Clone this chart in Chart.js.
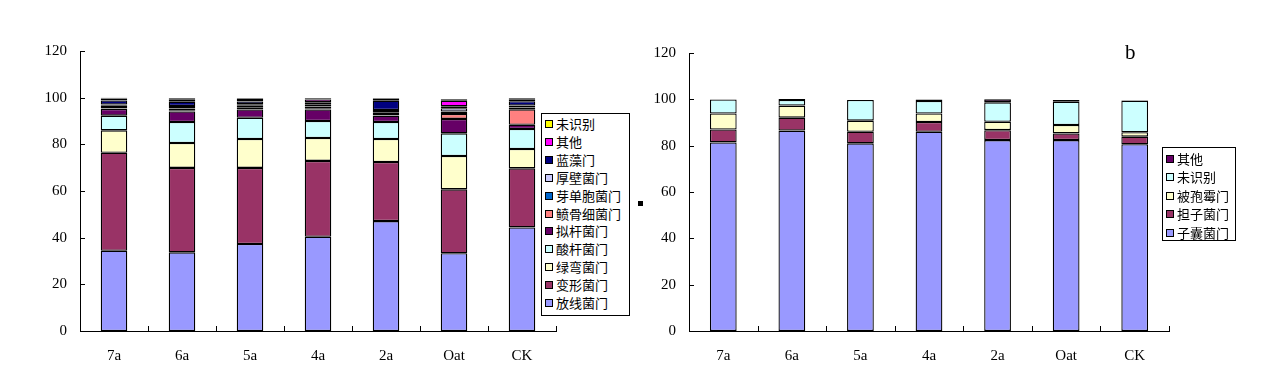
<!DOCTYPE html>
<html>
<head>
<meta charset="utf-8">
<script src="https://cdn.jsdelivr.net/npm/chart.js@4.4.0/dist/chart.umd.min.js"></script>
<style>
  body { margin: 0; background: #fff; width: 1269px; height: 381px; overflow: hidden; position: relative; }
  canvas { position: absolute; top: 0; }
  .legend { position: absolute; border: 1px solid #000; background: #fff; font-family: "Noto Sans CJK SC", sans-serif; font-size: 13px; color: #000; box-sizing: border-box; }
  .legend div { position: absolute; left: 0; white-space: nowrap; line-height: 16px; }
  .legend span { display: inline-block; width: 6px; height: 6px; border: 1px solid #000; margin-right: 3px; vertical-align: 1px; }
  #mark { position: absolute; left: 638px; top: 201px; width: 5px; height: 5px; background: #000; }
  #tag { position: absolute; left: 1125px; top: 40px; font-family: "Liberation Serif", serif; font-size: 21px; }
</style>
</head>
<body>
<canvas id="left" width="640" height="381" style="left:0;width:640px;height:381px"></canvas>
<canvas id="right" width="629" height="381" style="left:640px;width:629px;height:381px"></canvas>
<div id="legend-left" class="legend" style="left:541px;top:113px;width:89px;height:203px"></div>
<div id="legend-right" class="legend" style="left:1162px;top:147px;width:74px;height:94px"></div>
<div id="mark"></div>
<div id="tag">b</div>
<script>
const CATEGORIES = ["7a", "6a", "5a", "4a", "2a", "Oat", "CK"];
const Y_TICKS = [0, 20, 40, 60, 80, 100, 120];

// bacteria (left), bottom to top
const BAC_NAMES = ["放线菌门", "变形菌门", "绿弯菌门", "酸杆菌门", "拟杆菌门", "鲼骨细菌门", "芽单胞菌门", "厚壁菌门", "蓝藻门", "其他", "未识别"];
const BAC_COLORS = ["#9999ff", "#993366", "#ffffcc", "#ccffff", "#660066", "#ff8080", "#0066cc", "#ccccff", "#000080", "#ff00ff", "#ffff00"];
const actino   = [34.4, 33.7, 37.3, 40.4, 47.1, 33.3, 44.4];
const proteo   = [42.0, 36.2, 32.6, 32.5, 25.3, 27.4, 25.3];
const chloro   = [9.6, 10.7, 12.4, 9.8, 9.9, 14.3, 8.3];
const acido    = [6.3, 9.0, 9.1, 7.3, 7.3, 9.7, 8.6];
const bactero  = [2.9, 4.5, 3.5, 4.9, 2.7, 6.2, 1.8];
const gemmBone = [0.3, 0.3, 0.8, 0.3, 0.2, 2.1, 6.6];
const gemma    = [1.0, 1.0, 1.0, 1.0, 1.2, 1.1, 0.8];
const firmi    = [0.6, 1.0, 0.5, 0.8, 1.0, 1.4, 0.8];
const cyano    = [1.7, 1.9, 1.2, 1.0, 4.0, 0.8, 1.9];
const bacOther = [0.8, 1.0, 1.2, 1.2, 0.9, 2.4, 0.8];
const bacUnk   = [0.4, 0.5, 0.3, 0.6, 0.3, 0.6, 0.5];
const BAC_VALUES = [actino, proteo, chloro, acido, bactero, gemmBone, gemma, firmi, cyano, bacOther, bacUnk];

// fungi (right), bottom to top
const FUN_NAMES = ["子囊菌门", "担子菌门", "被孢霉门", "未识别", "其他"];
const FUN_COLORS = ["#9999ff", "#993366", "#ffffcc", "#ccffff", "#660066"];
const asco     = [81.4, 86.5, 81.0, 86.0, 82.4, 82.4, 80.6];
const basidio  = [5.6, 5.6, 5.0, 4.2, 4.3, 2.9, 3.3];
const mortier  = [6.9, 5.2, 4.8, 3.7, 3.6, 3.6, 1.9];
const funUnk   = [6.0, 2.4, 8.9, 5.4, 8.4, 10.1, 13.6];
const funOther = [0.0, 0.4, 0.0, 0.6, 1.3, 0.7, 0.2];
const FUN_VALUES = [asco, basidio, mortier, funUnk, funOther];

const SERIF = "'Liberation Serif', 'Times New Roman', serif";

// inside tick marks, like the original spreadsheet chart
const insideTicks = {
  id: "insideTicks",
  afterDraw(chart) {
    const ctx = chart.ctx;
    const a = chart.chartArea;
    const x = chart.scales.x, y = chart.scales.y;
    ctx.save();
    ctx.strokeStyle = "#000";
    ctx.lineWidth = 1;
    ctx.beginPath();
    Y_TICKS.forEach((v) => {
      const py = Math.round(y.getPixelForValue(v)) + 0.5;
      ctx.moveTo(a.left, py);
      ctx.lineTo(a.left + 5, py);
    });
    const step = (x.right - x.left) / CATEGORIES.length;
    for (let i = 1; i <= CATEGORIES.length; i++) {
      const px = Math.round(x.left + step * i) + 0.5;
      ctx.moveTo(px, a.bottom);
      ctx.lineTo(px, a.bottom - 5);
    }
    ctx.stroke();
    ctx.restore();
  },
};

function makeChart(id, names, colors, values, pad, yWidth) {
  const datasets = names.map((n, i) => ({
    label: n,
    data: values[i],
    backgroundColor: colors[i],
    borderColor: "#000",
    borderWidth: 1.3,
    borderSkipped: false,
    barPercentage: 0.39,
    categoryPercentage: 1,
  }));
  return new Chart(document.getElementById(id), {
    type: "bar",
    data: { labels: CATEGORIES, datasets },
    plugins: [insideTicks],
    options: {
      responsive: false,
      animation: false,
      layout: { padding: pad },
      plugins: { legend: { display: false }, tooltip: { enabled: false } },
      scales: {
        x: {
          stacked: true,
          grid: { display: false },
          border: { display: true, color: "#000", width: 1 },
          ticks: { color: "#000", font: { family: SERIF, size: 15 }, padding: 8 },
          afterFit: (s) => { s.height = 50; },
        },
        y: {
          stacked: true,
          min: 0,
          max: 120,
          grid: { display: false },
          border: { display: true, color: "#000", width: 1 },
          ticks: { stepSize: 20, color: "#000", font: { family: SERIF, size: 15 }, padding: 5 },
          afterFit: (s) => { s.width = yWidth; },
        },
      },
    },
  });
}

makeChart("left", BAC_NAMES, BAC_COLORS, BAC_VALUES, { left: 30, right: 84, top: 51, bottom: 0 }, 50);
makeChart("right", FUN_NAMES, FUN_COLORS, FUN_VALUES, { left: 4, right: 100, top: 53, bottom: 0 }, 45);

function buildLegend(elId, names, colors, top0, gap) {
  const box = document.getElementById(elId);
  for (let i = names.length - 1, k = 0; i >= 0; i--, k++) {
    const row = document.createElement("div");
    row.style.top = (top0 + k * gap) + "px";
    row.style.left = "3px";
    const sw = document.createElement("span");
    sw.style.background = colors[i];
    row.appendChild(sw);
    row.appendChild(document.createTextNode(names[i]));
    box.appendChild(row);
  }
}
buildLegend("legend-left", BAC_NAMES, BAC_COLORS, 2, 17.9);
buildLegend("legend-right", FUN_NAMES, FUN_COLORS, 3, 18.4);
</script>
</body>
</html>
